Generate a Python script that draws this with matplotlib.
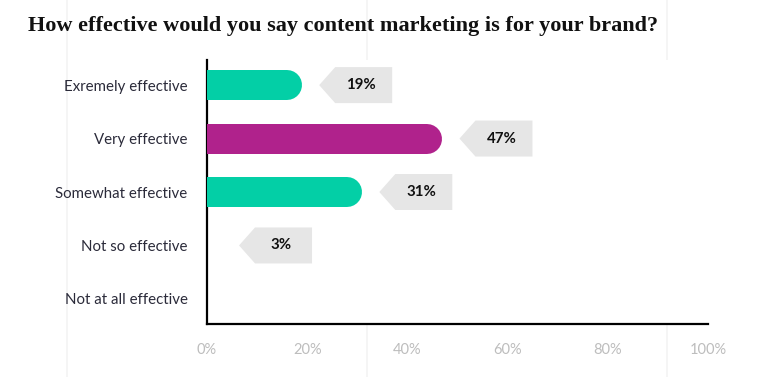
import matplotlib.pyplot as plt
import matplotlib.transforms as mtransforms
from matplotlib.patches import Polygon
from matplotlib.lines import Line2D

categories = ['Exremely effective', 'Very effective', 'Somewhat effective',
              'Not so effective', 'Not at all effective']
values = [19, 47, 31, 3, 0]
bar_colors = ['#03cfa6', '#b0228c', '#03cfa6', '#b0228c', '#03cfa6']
xticks = [0, 20, 40, 60, 80, 100]
xtick_labels = ['0%', '20%', '40%', '60%', '80%', '100%']

fig = plt.figure(figsize=(7.74, 3.77), dpi=100)
ax = fig.add_axes([207 / 774, 53 / 377, 501 / 774, 264 / 377])

# faint page grid lines in the background
for px in [67, 367, 667]:
    fig.add_artist(Line2D([px / 774, px / 774], [0, 1], transform=fig.transFigure,
                          color='#f3f3f3', lw=1.2, zorder=-5))

ax.set_xlim(0, 100)
ax.set_ylim(4.47, -0.47)

bar_px = 30
r_data = (bar_px / 2) / (501 / 100)  # radius of rounded end in data units
for i, (v, c) in enumerate(zip(values, bar_colors)):
    if v <= 0:
        continue
    end = max(v - r_data, 0)
    ax.plot([0, end], [i, i], color=c, lw=bar_px * 72 / 100,
            solid_capstyle='round', zorder=3)

    # label tag with pointer on the left
    tr = mtransforms.Affine2D() + mtransforms.ScaledTranslation(v, i, ax.transData)
    verts = [(17, 0), (33, 18), (90, 18), (90, -18), (33, -18)]
    ax.add_patch(Polygon(verts, closed=True, transform=tr, facecolor='#e6e6e6',
                         edgecolor='none', clip_on=False, zorder=2))
    ax.text(59, 0, f'{v}%', transform=tr, ha='center', va='center',
            fontsize=10.8, fontweight='bold', color='#111111', family='Lato')

ax.set_yticks(range(len(categories)))
ax.set_yticklabels(categories, fontsize=10.8, color='#2b2b3a', family='Lato')
ax.set_xticks(xticks)
ax.set_xticklabels(xtick_labels, fontsize=10.5, color='#bdbdbd', family='Lato')
ax.tick_params(axis='y', length=0, pad=14)
ax.tick_params(axis='x', length=0, pad=14)

for s in ['top', 'right']:
    ax.spines[s].set_visible(False)
for s in ['left', 'bottom']:
    ax.spines[s].set_linewidth(1.6)
    ax.spines[s].set_color('black')

fig.text(28 / 774, 1 - 26 / 377, 'How effective would you say content marketing is for your brand?',
         fontsize=16, fontweight='bold', family='Liberation Serif', color='#111111',
         ha='left', va='center')

fig.savefig('out.png', dpi=100)
